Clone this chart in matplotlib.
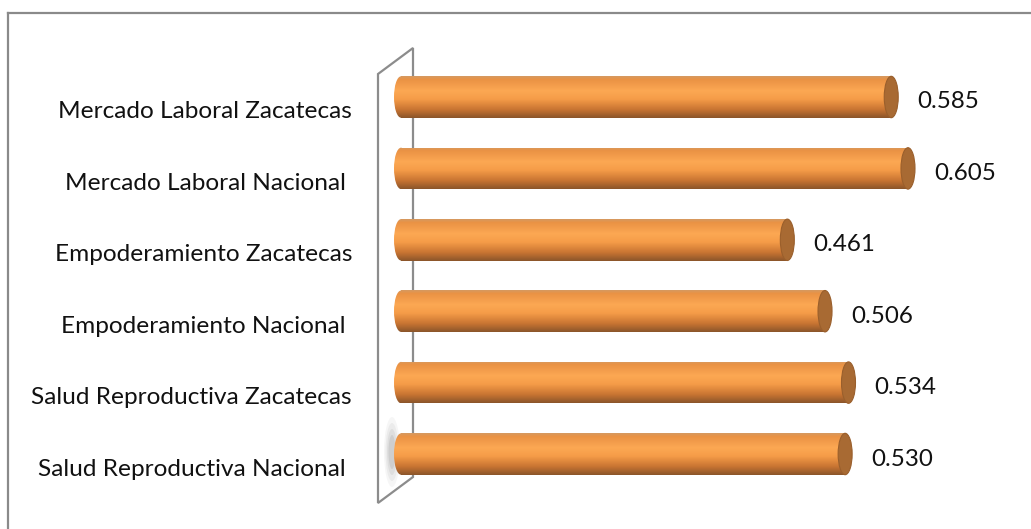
import numpy as np
import matplotlib
matplotlib.use("Agg")
import matplotlib.pyplot as plt
from matplotlib.patches import Ellipse, Polygon
from matplotlib.lines import Line2D
from matplotlib.colors import LinearSegmentedColormap

# ---- data (top to bottom as displayed) ----
categories = [
    "Mercado Laboral Zacatecas",
    "Mercado Laboral Nacional ",
    "Empoderamiento Zacatecas",
    "Empoderamiento Nacional ",
    "Salud Reproductiva Zacatecas",
    "Salud Reproductiva Nacional ",
]
values = [0.585, 0.605, 0.461, 0.506, 0.534, 0.530]
value_labels = ["0.585", "0.605", "0.461", "0.506", "0.534", "0.530"]

W, H, DPI = 1031, 529, 100
fig = plt.figure(figsize=(W / DPI, H / DPI), dpi=DPI)
ax = fig.add_axes([0, 0, 1, 1])
ax.set_axis_off()

# pixel <-> data calibration
px_per_unit = 838.0
x0_px = 401.0
row_px = 71.4
bottom_center_px = 454.0

n = len(categories)
ypos = np.arange(n)[::-1]  # first category at top
bar_h = 0.58
cap_w = 14.0 / px_per_unit

def fx(p):
    return p / W
def fy(p):
    return 1 - p / H

# wall (decorative 3D plane)
wall = Polygon([(fx(378), fy(74)), (fx(413), fy(48)), (fx(413), fy(477)), (fx(378), fy(503))],
               closed=True, facecolor="white", edgecolor="#8c8c8c", lw=1.6,
               transform=ax.transAxes, zorder=1)
ax.add_patch(wall)

# soft shadow near bottom bar
for k, a in enumerate([0.05, 0.07, 0.09, 0.12]):
    sh = Ellipse((fx(392), fy(452)), (16 - 3 * k) / W, (70 - 12 * k) / H,
                 transform=ax.transAxes, facecolor="#606060", alpha=a, lw=0, zorder=1.5)
    ax.add_patch(sh)

# cylinder gradient
cmap = LinearSegmentedColormap.from_list(
    "cyl", [(0.0, "#d49a62"), (0.08, "#ea9244"), (0.35, "#fca853"),
            (0.55, "#f59c48"), (0.8, "#c87432"), (1.0, "#8a552a")])
grad = np.linspace(0, 1, 256).reshape(-1, 1)

bars = ax.barh(ypos, values, height=bar_h, left=0, color="none", lw=0, zorder=2)
for rect, y, v in zip(bars, ypos, values):
    im = ax.imshow(grad, cmap=cmap, aspect="auto",
                   extent=(0, v, y - bar_h / 2, y + bar_h / 2),
                   origin="upper", zorder=2, interpolation="bilinear")
    im.set_clip_path(rect)
    lc = Ellipse((0, y), cap_w, bar_h, facecolor="none", lw=0, zorder=2)
    ax.add_patch(lc)
    im2 = ax.imshow(grad, cmap=cmap, aspect="auto",
                    extent=(-cap_w / 2, 0.001, y - bar_h / 2, y + bar_h / 2),
                    origin="upper", zorder=2, interpolation="bilinear")
    im2.set_clip_path(lc)
    rc = Ellipse((v, y), cap_w, bar_h, facecolor="#a86a33", edgecolor="#9a5f2c",
                 lw=0.8, zorder=3)
    ax.add_patch(rc)

ax.set_xlim(-x0_px / px_per_unit, (W - x0_px) / px_per_unit)
ax.set_ylim((bottom_center_px - H) / row_px, bottom_center_px / row_px)

font = ["Lato", "DejaVu Sans"]
lab_off = -15.0 / row_px
for y, c in zip(ypos, categories):
    ax.text(-42.0 / px_per_unit - cap_w / 2, y + lab_off, c, ha="right", va="center",
            fontsize=17.6, family=font, color="#111111", zorder=4)
for y, v, t in zip(ypos, values, value_labels):
    ax.text(v + 26.0 / px_per_unit, y - 5.0 / row_px, t, ha="left", va="center",
            fontsize=17.4, family=font, color="#111111", zorder=4)

# chart border (left and top edges visible)
fig.add_artist(Line2D([fx(8), fx(8)], [fy(13), 0], transform=fig.transFigure,
                      color="#8a8a8a", lw=1.6))
fig.add_artist(Line2D([fx(8), 1], [fy(13), fy(13)], transform=fig.transFigure,
                      color="#8a8a8a", lw=1.6))

fig.savefig("out.png", dpi=DPI, facecolor="white")
